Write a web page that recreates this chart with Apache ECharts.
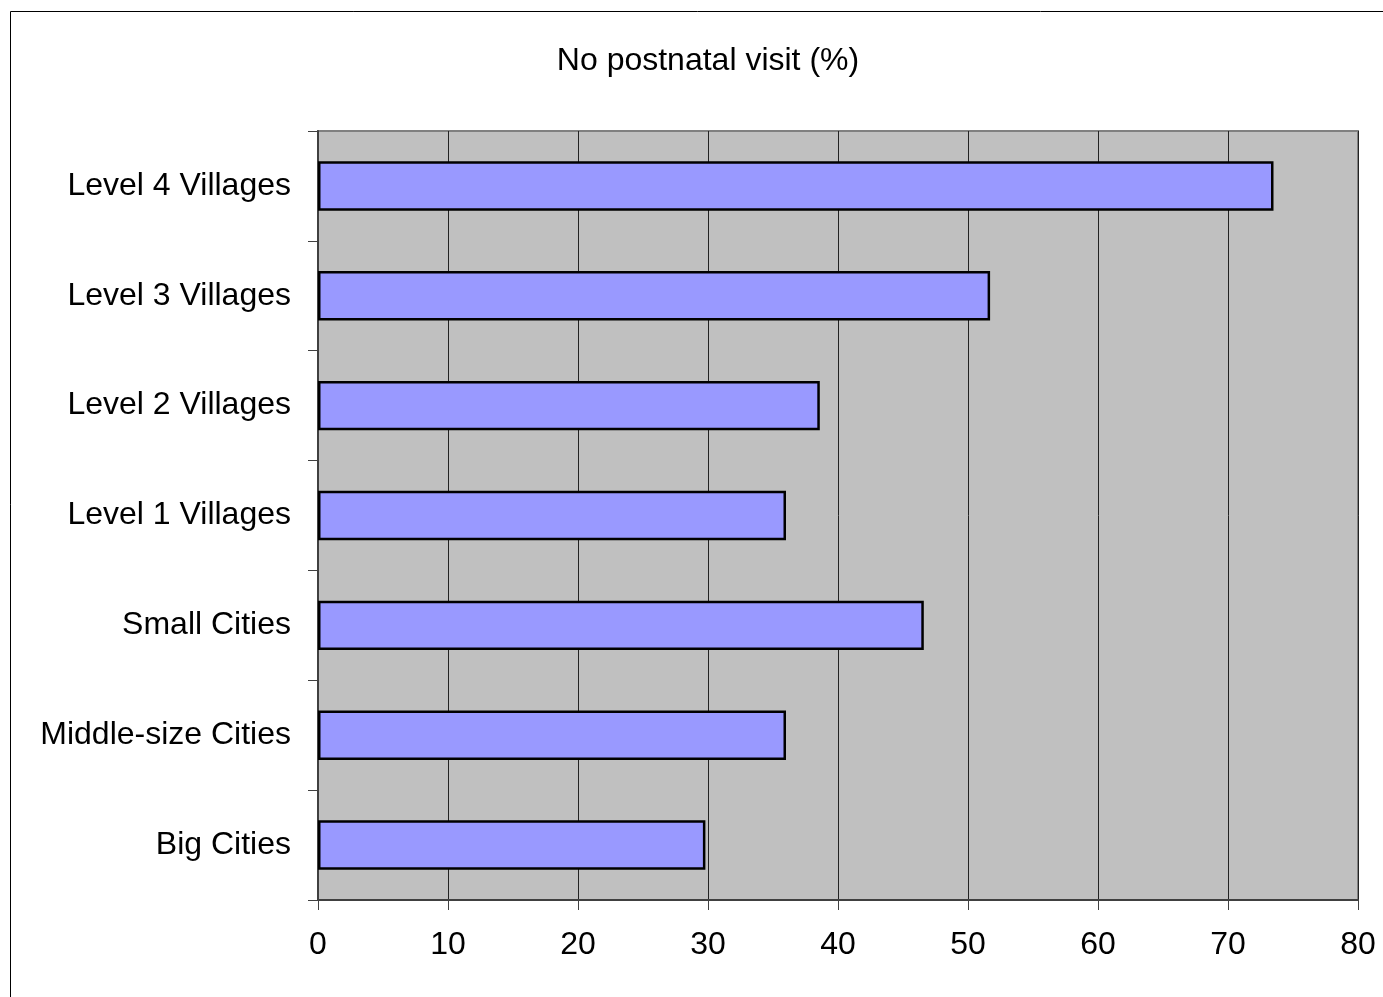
<!DOCTYPE html>
<html>
<head>
<meta charset="utf-8">
<style>
  html, body { margin: 0; padding: 0; background: #ffffff; }
  #chart { width: 1383px; height: 997px; }
</style>
<script src="https://cdn.jsdelivr.net/npm/echarts@6/dist/echarts.min.js"></script>
</head>
<body>
<div id="chart"></div>
<script>
// Settlement types, bottom to top
const categories = [
  'Big Cities',
  'Middle-size Cities',
  'Small Cities',
  'Level 1 Villages',
  'Level 2 Villages',
  'Level 3 Villages',
  'Level 4 Villages'
];
// Share of mothers with no postnatal visit (%)
const noVisitPct = [29.8, 36.0, 46.6, 36.0, 38.6, 51.7, 73.5];
const xTicks = { min: 0, max: 80, interval: 10 };
const titleText = 'No postnatal visit (%)';

const chart = echarts.init(document.getElementById('chart'), null, { renderer: 'canvas' });
const font = 'Liberation Sans, Arial, sans-serif';
const fontSize = 32;

chart.setOption({
  animation: false,
  backgroundColor: '#ffffff',
  title: {
    text: titleText,
    left: 703,
    top: 40,
    textAlign: 'center',
    textStyle: { fontFamily: font, fontSize: fontSize, fontWeight: 'normal', color: '#000' }
  },
  graphic: [{
    type: 'rect',
    shape: { x: 10.5, y: 11.5, width: 1400, height: 1000 },
    style: { fill: 'none', stroke: '#000', lineWidth: 1 },
    silent: true,
    z: -1
  }],
  grid: {
    left: 318, top: 131, width: 1040, height: 769,
    show: true,
    backgroundColor: '#c0c0c0',
    borderColor: '#808080',
    borderWidth: 2,
    containLabel: false
  },
  xAxis: {
    type: 'value',
    min: xTicks.min, max: xTicks.max, interval: xTicks.interval,
    axisLine: { show: true, lineStyle: { color: '#404040', width: 2 } },
    axisTick: { show: true, length: 10, lineStyle: { color: '#404040', width: 1 } },
    axisLabel: { margin: 29, fontFamily: font, fontSize: fontSize, color: '#000' },
    splitLine: { show: true, lineStyle: { color: '#222', width: 1 } }
  },
  yAxis: {
    type: 'category',
    data: categories,
    axisLine: { show: true, lineStyle: { color: '#404040', width: 2 } },
    axisTick: { show: true, length: 10, lineStyle: { color: '#404040', width: 1 } },
    axisLabel: { margin: 27, fontFamily: font, fontSize: fontSize, color: '#000', padding: [4, 0, 0, 0] },
    splitLine: { show: false }
  },
  series: [{
    type: 'bar',
    data: noVisitPct,
    barCategoryGap: '55%',
    itemStyle: { color: '#9999ff', borderColor: '#000', borderWidth: 2.5 }
  }]
});
</script>
</body>
</html>
